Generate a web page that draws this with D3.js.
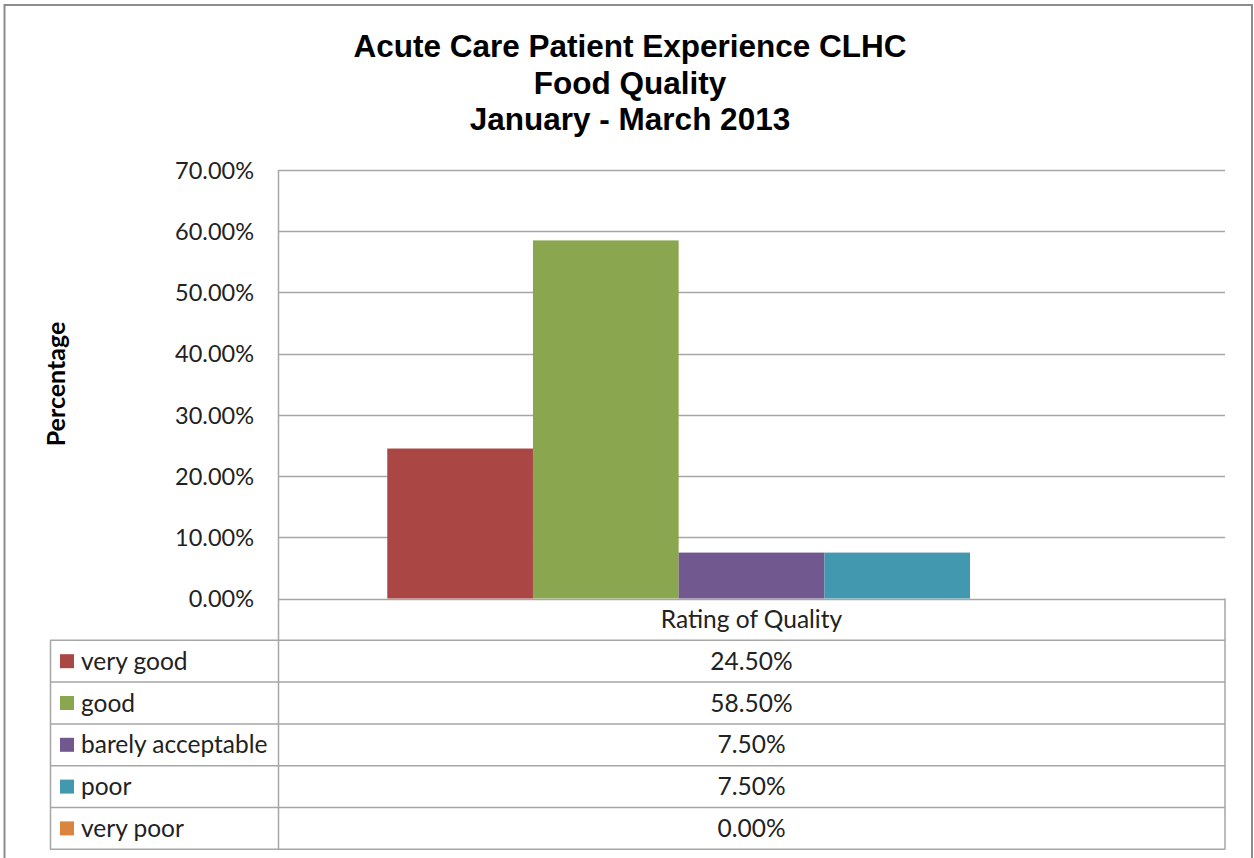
<!DOCTYPE html>
<html><head><meta charset="utf-8">
<script src="https://cdn.jsdelivr.net/npm/d3@7"></script>
<style>
html,body{margin:0;padding:0;background:#fff;}
svg{display:block;}
</style></head>
<body>
<svg id="chart" width="1254" height="858"></svg>
<script>
const titleLines = ["Acute Care Patient Experience CLHC", "Food Quality", "January - March 2013"];
const categories = ["Rating of Quality"];
const seriesNames = ["very good", "good", "barely acceptable", "poor", "very poor"];
const seriesValues = [0.245, 0.585, 0.075, 0.075, 0.0];
const seriesColors = ["#AA4644", "#8AA64F", "#71588F", "#4298AF", "#DB843D"];
const yTicks = [0, 0.1, 0.2, 0.3, 0.4, 0.5, 0.6, 0.7];
const yTitle = "Percentage";

const svg = d3.select("#chart");
const plot = {left: 278, right: 1225, top: 170, bottom: 598.5};
const tableLeft = 50;
const rowH = 41.8;
const labelFont = "Lato, 'Open Sans', sans-serif";
const gridColor = "#A6A6A6";

// outer border
svg.append("rect").attr("x", 4.5).attr("y", 5).attr("width", 1247.5).attr("height", 870)
  .attr("fill", "#fff").attr("stroke", "#8C8C8C").attr("stroke-width", 2);

// title
const title = svg.append("text").attr("text-anchor", "middle")
  .attr("font-family", "'Liberation Sans', Arial, sans-serif").attr("font-weight", "bold")
  .attr("font-size", 31.5).attr("fill", "#000");
titleLines.forEach((t, i) => {
  title.append("tspan").attr("x", 630).attr("y", 57 + i * 36.5).text(t);
});

const y = d3.scaleLinear().domain([0, 0.7]).range([plot.bottom, plot.top]);
const x0 = d3.scaleBand().domain(categories).range([plot.left, plot.right]).paddingInner(0).paddingOuter(0.15);
const x1 = d3.scaleBand().domain(seriesNames).range([0, x0.bandwidth()]).padding(0);

// gridlines
svg.append("g").selectAll("line").data(yTicks).join("line")
  .attr("x1", plot.left).attr("x2", plot.right)
  .attr("y1", d => Math.round(y(d)) + 0.5).attr("y2", d => Math.round(y(d)) + 0.5)
  .attr("stroke", gridColor).attr("stroke-width", 1.5);

// y axis
const yAxis = d3.axisLeft(y).tickValues(yTicks).tickFormat(d3.format(".2%")).tickSize(0).tickPadding(24);
const ya = svg.append("g").attr("transform", `translate(${plot.left},0)`).call(yAxis);
ya.select(".domain").remove();
ya.selectAll("text").attr("font-family", labelFont).attr("font-size", 23.5).attr("fill", "#222")
  .attr("dy", "0.35em");

// bars
svg.append("g").selectAll("rect").data(seriesNames).join("rect")
  .attr("x", (d) => x0(categories[0]) + x1(d))
  .attr("width", x1.bandwidth())
  .attr("y", (d, i) => y(seriesValues[i]))
  .attr("height", (d, i) => y(0) - y(seriesValues[i]))
  .attr("fill", (d, i) => seriesColors[i]);

// y title
svg.append("text").attr("transform", "translate(65,384) rotate(-90)")
  .attr("text-anchor", "middle").attr("font-family", labelFont).attr("font-weight", "bold")
  .attr("font-size", 25).attr("fill", "#000").text(yTitle);

// data table
const tbl = svg.append("g");
const headTop = plot.bottom;
const headBottom = headTop + rowH;
const nRows = seriesNames.length;
tbl.append("line").attr("x1", plot.left + 0.5).attr("x2", plot.left + 0.5).attr("y1", plot.top).attr("y2", headBottom + rowH * nRows)
  .attr("stroke", gridColor).attr("stroke-width", 1.5);
tbl.append("line").attr("x1", plot.right).attr("x2", plot.right).attr("y1", headTop).attr("y2", headBottom + rowH * nRows)
  .attr("stroke", gridColor).attr("stroke-width", 1.5);
tbl.append("line").attr("x1", tableLeft + 0.5).attr("x2", tableLeft + 0.5).attr("y1", headBottom).attr("y2", headBottom + rowH * nRows)
  .attr("stroke", gridColor).attr("stroke-width", 1.5);
d3.range(nRows + 1).forEach(i => {
  const yy = headBottom + i * rowH;
  tbl.append("line").attr("x1", tableLeft).attr("x2", plot.right).attr("y1", yy).attr("y2", yy)
    .attr("stroke", gridColor).attr("stroke-width", 1.5);
});
const fs = 24.5;
tbl.append("text").attr("x", x0(categories[0]) + x0.bandwidth() / 2).attr("y", headTop + rowH / 2)
  .attr("dy", "0.35em").attr("text-anchor", "middle").attr("font-family", labelFont)
  .attr("font-size", fs).attr("fill", "#222").text(categories[0]);
const pct = d3.format(".2%");
seriesNames.forEach((s, i) => {
  const cy = headBottom + i * rowH + rowH / 2;
  tbl.append("rect").attr("x", 60).attr("y", cy - 7).attr("width", 14).attr("height", 14).attr("fill", seriesColors[i]);
  tbl.append("text").attr("x", 81).attr("y", cy).attr("dy", "0.35em").attr("font-family", labelFont)
    .attr("font-size", fs).attr("fill", "#222").text(s);
  tbl.append("text").attr("x", x0(categories[0]) + x0.bandwidth() / 2).attr("y", cy).attr("dy", "0.35em")
    .attr("text-anchor", "middle").attr("font-family", labelFont)
    .attr("font-size", fs).attr("fill", "#222").text(pct(seriesValues[i]));
});
</script>
</body></html>
